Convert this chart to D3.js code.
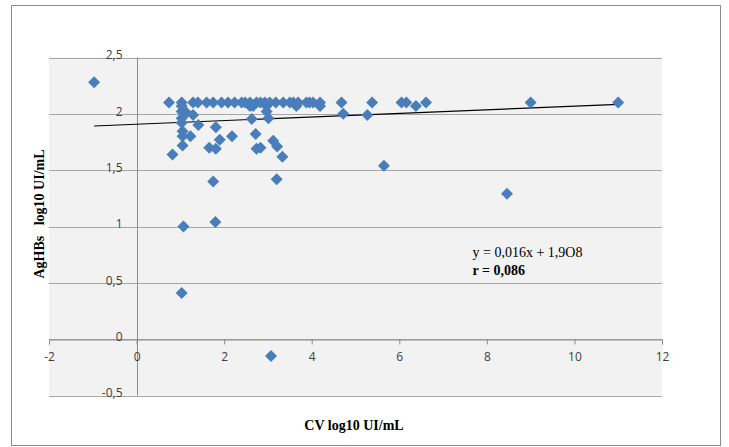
<!DOCTYPE html>
<html><head><meta charset="utf-8">
<script src="https://cdn.jsdelivr.net/npm/d3@7"></script>
<style>body{margin:0;background:#fff}svg{display:block}</style>
</head><body>
<svg id="c" width="729" height="447"></svg>
<script>
const xValues = [
 0.74,1.03,1.29,1.40,1.60,1.75,1.94,2.09,2.24,2.40,2.48,2.59,2.74,2.83,2.93,3.04,3.18,3.35,3.50,3.58,3.69,3.88,3.95,4.03,4.19,4.68,5.38,6.05,6.16,6.61,9.0,11.0,
 1.03,2.59,2.66,2.97,3.65,4.19,6.38,
 1.03,1.14,1.29,1.03,1.03,1.41,1.81,0.82,1.05,1.05,1.05,1.23,1.66,1.81,1.90,1.75,2.18,2.63,2.72,2.74,2.83,3.01,3.12,3.21,3.33,3.20,4.72,5.27,5.65,8.46,-0.97,1.07,1.80,1.03,3.07,2.97
];
const yValues = [
 2.10,2.10,2.10,2.10,2.10,2.10,2.10,2.10,2.10,2.10,2.10,2.10,2.10,2.10,2.10,2.10,2.10,2.10,2.10,2.10,2.10,2.10,2.10,2.10,2.10,2.10,2.10,2.10,2.10,2.10,2.10,2.10,
 2.07,2.07,2.07,2.07,2.07,2.07,2.07,
 2.02,2.01,1.99,1.96,1.92,1.90,1.88,1.64,1.72,1.80,1.845,1.80,1.70,1.69,1.77,1.40,1.80,1.955,1.82,1.69,1.70,1.96,1.76,1.71,1.62,1.42,2.00,1.99,1.54,1.29,2.28,1.00,1.04,0.41,-0.15,2.02
];
const xTicks = [-2,0,2,4,6,8,10,12];
const yTicks = [-0.5,0,0.5,1,1.5,2,2.5];
const slope = 0.016, intercept = 1.908;
const trendRange = [-0.97, 11.0];
const eqLabel = "y = 0,016x + 1,9O8";
const rLabel = "r = 0,086";
const xTitle = "CV log10 UI/mL";
const yTitle = "AgHBs   log10 UI/mL";

const svg = d3.select("#c");
const fmt = v => String(v).replace(".", ",");
const x = d3.scaleLinear().domain([-2,12]).range([49,662]);
const y = d3.scaleLinear().domain([-0.5,2.5]).range([395.5,57.5]);

// outer frame
svg.append("rect").attr("x",11.5).attr("y",5.5).attr("width",709).attr("height",440)
  .attr("fill","#fff").attr("stroke","#8c8c8c").attr("stroke-width",1);
// plot area
svg.append("rect").attr("x",x(-2)).attr("y",y(2.5)).attr("width",x(12)-x(-2)).attr("height",y(-0.5)-y(2.5))
  .attr("fill","#f2f2f2");
// gridlines
svg.append("g").selectAll("line").data(yTicks).join("line")
  .attr("x1",x(-2)).attr("x2",x(12))
  .attr("y1",d=>Math.round(y(d))+0.5).attr("y2",d=>Math.round(y(d))+0.5)
  .attr("stroke","#a6a6a6").attr("stroke-width",1.2);
// y axis line at x=0
svg.append("line").attr("x1",Math.round(x(0))+0.5).attr("x2",Math.round(x(0))+0.5)
  .attr("y1",y(2.5)).attr("y2",y(-0.5)).attr("stroke","#8c8c8c");
// x axis at y=0
const xAxis = d3.axisBottom(x).tickValues(xTicks).tickSize(5).tickPadding(8).tickFormat(fmt);
const gx = svg.append("g").attr("transform",`translate(0,${Math.round(y(0))+0.5})`).call(xAxis);
gx.select(".domain").attr("stroke","#8c8c8c");
gx.selectAll(".tick line").attr("stroke","#8c8c8c");
gx.selectAll("text").attr("font-family","'Open Sans', 'Liberation Sans', sans-serif").attr("font-size",12).attr("fill","#404040");
// y tick labels
const yAxis = d3.axisLeft(y).tickValues(yTicks).tickSize(0).tickPadding(14).tickFormat(fmt);
const gy = svg.append("g").attr("transform",`translate(${x(0)},0)`).call(yAxis);
gy.select(".domain").remove();
gy.selectAll("text").attr("font-family","'Open Sans', 'Liberation Sans', sans-serif").attr("font-size",12).attr("fill","#404040").attr("dy","0.1em");

// trendline
svg.append("line")
  .attr("x1",x(trendRange[0])).attr("y1",y(slope*trendRange[0]+intercept))
  .attr("x2",x(trendRange[1])).attr("y2",y(slope*trendRange[1]+intercept))
  .attr("stroke","#000").attr("stroke-width",1.1);

// points
const pts = xValues.map((v,i)=>({x:v,y:yValues[i]}));
const r = 6;
svg.append("g").selectAll("path").data(pts).join("path")
  .attr("d",d=>{const cx=x(d.x), cy=y(d.y);return `M${cx},${cy-r}L${cx+r},${cy}L${cx},${cy+r}L${cx-r},${cy}Z`;})
  .attr("fill","#4a7ebb");

// equation
svg.append("text").attr("x",472.5).attr("y",256.5).attr("font-family","'Liberation Serif', serif")
  .attr("font-size",14).attr("fill","#000").text(eqLabel);
svg.append("text").attr("x",472.5).attr("y",274.5).attr("font-family","'Liberation Serif', serif")
  .attr("font-size",14).attr("font-weight","bold").attr("fill","#000").text(rLabel);

// titles
svg.append("text").attr("x",354).attr("y",430).attr("text-anchor","middle")
  .attr("font-family","'Liberation Serif', serif").attr("font-size",14).attr("font-weight","bold").text(xTitle);
svg.append("text").attr("transform","translate(44,214) rotate(-90)").attr("text-anchor","middle")
  .style("white-space","pre")
  .attr("font-family","'Liberation Serif', serif").attr("font-size",14).attr("font-weight","bold").text(yTitle);
</script>
</body></html>
